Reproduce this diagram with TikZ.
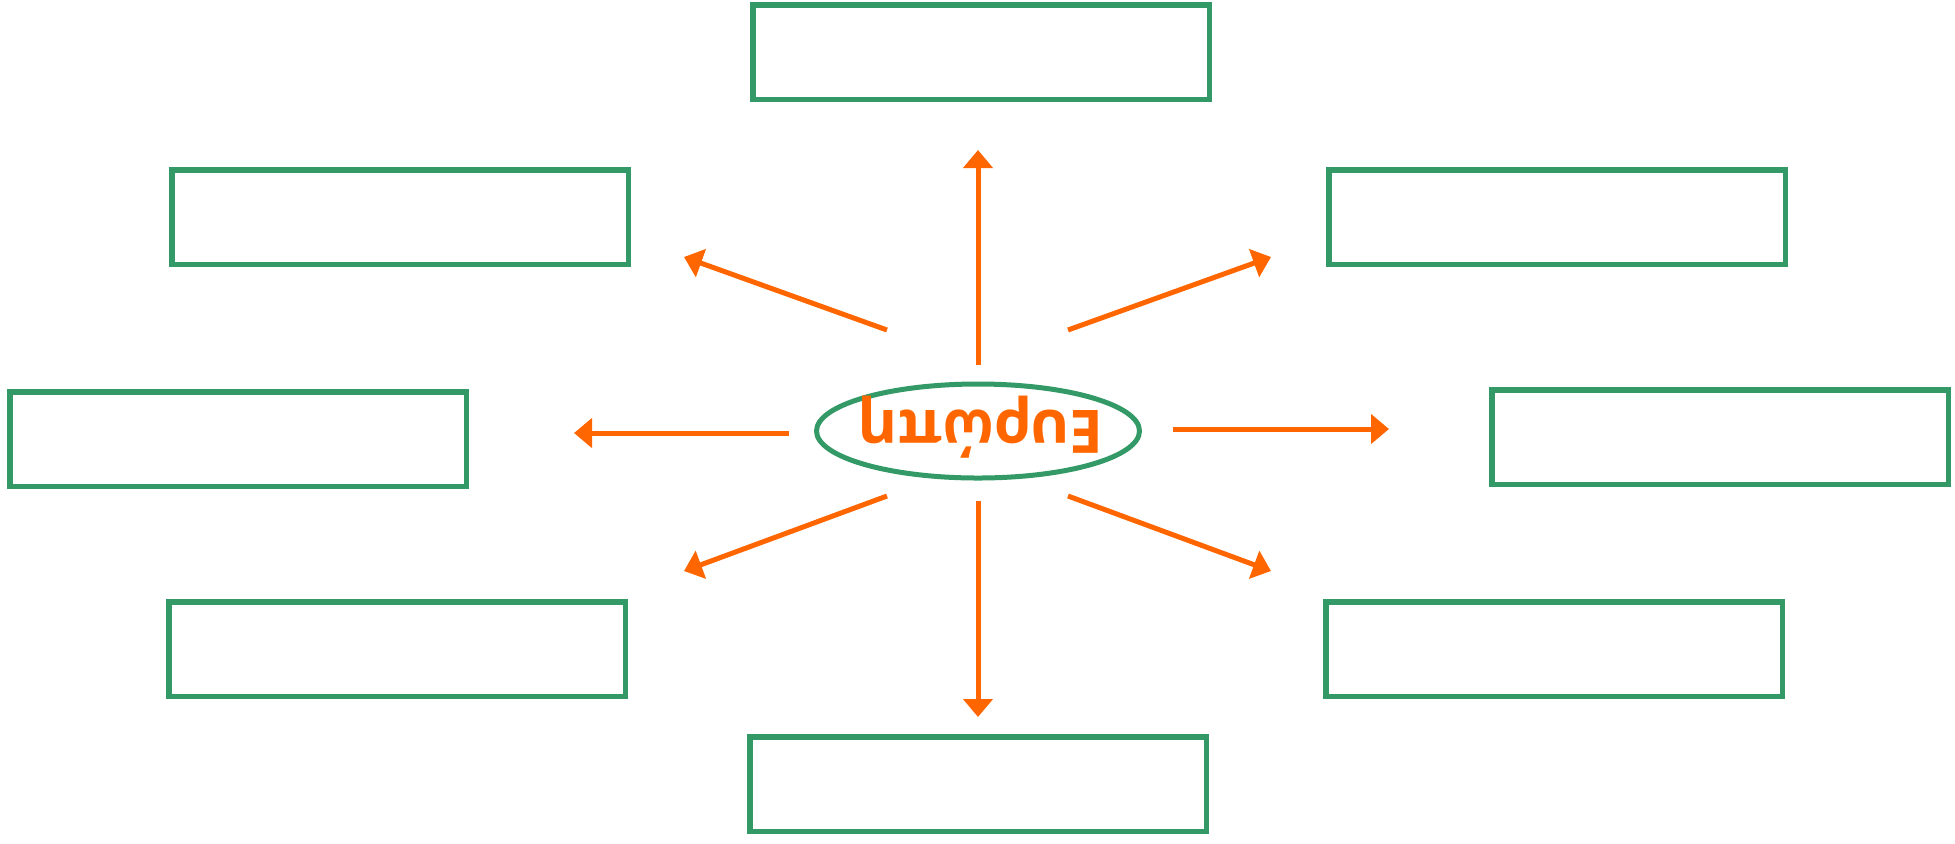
\documentclass[tikz,border=0pt]{standalone}
\usepackage{fontspec}
\setmainfont{Open Sans}
\usetikzlibrary{shapes.geometric, arrows.meta}
\definecolor{boxgreen}{HTML}{339966}
\definecolor{arroworange}{HTML}{FF6600}

\begin{document}
\begin{tikzpicture}[x=0.5pt, y=-0.5pt,
        % Estilos de los nodos y flechas
        boxnode/.style={
            draw=boxgreen,
            line width=2.75pt,
            rectangle,
            minimum width=228.25pt,
            minimum height=47.25pt,
            inner sep=0pt
        },
        hubnode/.style={
            draw=boxgreen,
            line width=2.5pt,
            ellipse,
            minimum width=161.5pt,
            minimum height=47pt,
            inner sep=0pt
        },
        arrowline/.style={
            draw=arroworange,
            line width=2.5pt,
            -{Triangle[length=9pt, width=14.5pt]}
        }
    ]
        \useasboundingbox (0,0) rectangle (1955,843);

        % Nodes
        \node[hubnode] (hub) at (978,431) {};
        \node[rotate=180, anchor=base, text=arroworange, inner sep=0pt,
              font=\bfseries\fontsize{30pt}{36pt}\selectfont] (hubtext) at (981,410) {Ευρώπη};

        \node[boxnode] (top) at (981,52) {};
        \node[boxnode] (topleft) at (400,217) {};
        \node[boxnode] (topright) at (1557,217) {};
        \node[boxnode] (left) at (238,439) {};
        \node[boxnode] (right) at (1720,437) {};
        \node[boxnode] (bottomleft) at (397,649) {};
        \node[boxnode] (bottomright) at (1554,649) {};
        \node[boxnode] (bottom) at (978,784) {};

        % Arrow ends
        \coordinate (upS) at (978,365);   \coordinate (upE) at (978,150);
        \coordinate (downS) at (978,501); \coordinate (downE) at (978,717);
        \coordinate (leftS) at (789,433); \coordinate (leftE) at (574,433);
        \coordinate (rightS) at (1173,429); \coordinate (rightE) at (1389,429);
        \coordinate (ulS) at (887,330);   \coordinate (ulE) at (684,257);
        \coordinate (urS) at (1068,330);  \coordinate (urE) at (1271,257);
        \coordinate (llS) at (887,496);   \coordinate (llE) at (684,571);
        \coordinate (lrS) at (1068,496);  \coordinate (lrE) at (1271,571);

        % Lines
        \draw[arrowline] (upS) -- (upE);
        \draw[arrowline] (downS) -- (downE);
        \draw[arrowline] (leftS) -- (leftE);
        \draw[arrowline] (rightS) -- (rightE);
        \draw[arrowline] (ulS) -- (ulE);
        \draw[arrowline] (urS) -- (urE);
        \draw[arrowline] (llS) -- (llE);
        \draw[arrowline] (lrS) -- (lrE);

\end{tikzpicture}
\end{document}
